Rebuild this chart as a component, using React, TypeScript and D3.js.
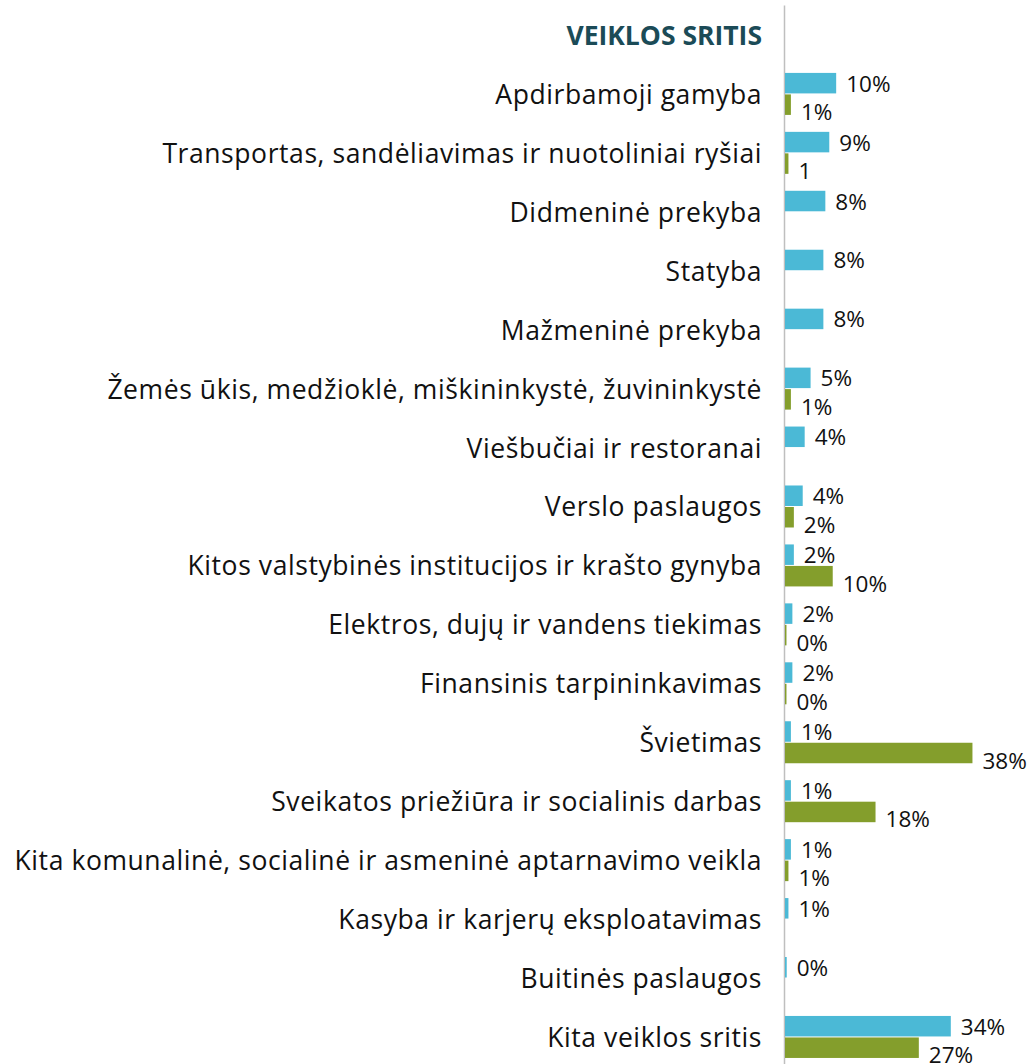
import React from "react";
import * as d3 from "d3";

const title = "VEIKLOS SRITIS";
const categories = [
  "Apdirbamoji gamyba",
  "Transportas, sandėliavimas ir nuotoliniai ryšiai",
  "Didmeninė prekyba",
  "Statyba",
  "Mažmeninė prekyba",
  "Žemės ūkis, medžioklė, miškininkystė, žuvininkystė",
  "Viešbučiai ir restoranai",
  "Verslo paslaugos",
  "Kitos valstybinės institucijos ir krašto gynyba",
  "Elektros, dujų ir vandens tiekimas",
  "Finansinis tarpininkavimas",
  "Švietimas",
  "Sveikatos priežiūra ir socialinis darbas",
  "Kita komunalinė, socialinė ir asmeninė aptarnavimo veikla",
  "Kasyba ir karjerų eksploatavimas",
  "Buitinės paslaugos",
  "Kita veiklos sritis",
];
const blueValues = [10.4, 9.0, 8.2, 7.8, 7.8, 5.2, 4.0, 3.6, 1.8, 1.5, 1.5, 1.2, 1.2, 1.2, 0.7, 0.35, 33.7];
const blueLabels = ["10%", "9%", "8%", "8%", "8%", "5%", "4%", "4%", "2%", "2%", "2%", "1%", "1%", "1%", "1%", "0%", "34%"];
const greenValues: (number | null)[] = [1.2, 0.7, null, null, null, 1.2, null, 1.8, 9.7, 0.3, 0.3, 38.1, 18.4, 0.7, null, null, 27.2];
const greenLabels: (string | null)[] = ["1%", "1", null, null, null, "1%", null, "2%", "10%", "0%", "0%", "38%", "18%", "1%", null, null, "27%"];

export default function App() {
  const W = 1029;
  const H = 1064;
  const x0 = 785;
  const x = d3.scaleLinear().domain([0, 40]).range([x0, x0 + 196.8]);
  const y = d3
    .scaleBand<string>()
    .domain([title, ...categories])
    .range([5.5, 5.5 + 18 * 58.94])
    .paddingInner(0)
    .paddingOuter(0);
  const step = y.step();
  const barH = 20.5;
  const font = "'Open Sans', Lato, sans-serif";
  const blue = "#4BB9D6";
  const green = "#849E2C";

  return (
    <svg
      width={W}
      height={H}
      style={{ position: "absolute", left: 0, top: 0, display: "block" }}
      fontFamily={font}
    >
      <rect width={W} height={H} fill="#fff" />
      <line x1={x0 - 0.5} x2={x0 - 0.5} y1={y.range()[0]} y2={H} stroke="#BFBFBF" strokeWidth={1.5} />
      <text
        x={762}
        y={(y(title) as number) + step / 2}
        textAnchor="end"
        dominantBaseline="central"
        fontSize={26.5}
        fontWeight={700}
        fill="#1B4B57"
      >
        {title}
      </text>
      {categories.map((c, i) => {
        const cy = (y(c) as number) + step / 2;
        const bv = blueValues[i];
        const gv = greenValues[i];
        return (
          <g key={c}>
            <text
              x={762}
              y={cy}
              textAnchor="end"
              dominantBaseline="central"
              fontSize={26.5}
              letterSpacing={0.58}
              fill="#111"
            >
              {c}
            </text>
            <rect x={x(0)} y={cy - barH - 0.5} width={x(bv) - x(0)} height={barH} fill={blue} />
            <text
              x={x(bv) + 10}
              y={cy - barH / 2 - 0.5}
              dominantBaseline="central"
              fontSize={22.5}
              fill="#111"
            >
              {blueLabels[i]}
            </text>
            {gv !== null && (
              <>
                <rect x={x(0)} y={cy + 0.5} width={x(gv) - x(0)} height={barH} fill={green} />
                <text
                  x={x(gv) + 10}
                  y={cy + barH / 2 + 7.5}
                  dominantBaseline="central"
                  fontSize={22.5}
                  fill="#111"
                >
                  {greenLabels[i]}
                </text>
              </>
            )}
          </g>
        );
      })}
    </svg>
  );
}
